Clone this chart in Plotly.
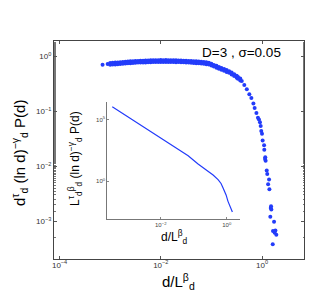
import plotly.graph_objects as go

# ---- main scatter data (d/L^beta_d , scaled P(d)) ----
band_x = [7.08e-4, 8.91e-4, 1.12e-3, 1.41e-3, 1.78e-3, 2.24e-3, 2.82e-3, 3.55e-3, 4.47e-3, 5.62e-3,
          7.08e-3, 8.91e-3, 0.0112, 0.0141, 0.0178, 0.0224, 0.0282, 0.0355, 0.0447, 0.0562,
          0.0708, 0.0891, 0.112, 0.141, 0.178, 0.224, 0.282, 0.335, 0.398, 0.447,
          0.501, 0.562, 0.617, 0.676, 0.716, 0.776, 0.832]
band_y = [0.703, 0.724, 0.736, 0.746, 0.762, 0.778, 0.789, 0.798, 0.805, 0.811,
          0.817, 0.822, 0.822, 0.822, 0.818, 0.815, 0.807, 0.800, 0.789, 0.778,
          0.762, 0.741, 0.676, 0.617, 0.569, 0.519, 0.457, 0.407, 0.355, 0.302,
          0.251, 0.204, 0.174, 0.138, 0.115, 0.0933, 0.0759]

mid_x = [1.0e-3, 1.26e-3, 1.58e-3, 2.0e-3, 2.51e-3, 3.16e-3, 3.98e-3, 5.01e-3, 6.31e-3, 7.94e-3,
         0.01, 0.0126, 0.0158, 0.02, 0.0251, 0.0316, 0.0398, 0.0501, 0.0631, 0.0794,
         0.1, 0.126, 0.158, 0.2, 0.251, 0.316, 0.372]
upper_y = [0.759, 0.771, 0.785, 0.802, 0.814, 0.826, 0.834, 0.841, 0.848, 0.853,
           0.855, 0.855, 0.853, 0.850, 0.843, 0.836, 0.826, 0.814, 0.802, 0.782,
           0.736, 0.672, 0.616, 0.565, 0.510, 0.444, 0.395]
lower_y = [0.701, 0.711, 0.725, 0.740, 0.752, 0.762, 0.770, 0.777, 0.782, 0.787,
           0.789, 0.789, 0.787, 0.784, 0.779, 0.772, 0.762, 0.752, 0.740, 0.722,
           0.680, 0.620, 0.568, 0.521, 0.470, 0.410, 0.365]

extra_x = [1.12e-3, 1.41e-3, 1.78e-3, 2.24e-3, 2.82e-3, 3.55e-3, 4.47e-3, 5.62e-3, 7.08e-3, 8.91e-3,
           0.0112, 0.0141, 0.0178, 0.0224, 0.0282, 0.0355, 0.0447, 0.0562, 0.0708, 0.0891,
           0.112, 0.141, 0.178, 0.224, 0.282, 0.335]
extra_hi = [0.762, 0.772, 0.789, 0.805, 0.817, 0.826, 0.833, 0.839, 0.846, 0.851,
            0.851, 0.851, 0.847, 0.844, 0.835, 0.828, 0.817, 0.805, 0.789, 0.767,
            0.700, 0.639, 0.589, 0.537, 0.473, 0.421]
extra_lo = [0.710, 0.720, 0.735, 0.751, 0.761, 0.770, 0.777, 0.783, 0.788, 0.793,
            0.793, 0.793, 0.789, 0.786, 0.779, 0.772, 0.761, 0.751, 0.735, 0.715,
            0.652, 0.595, 0.549, 0.501, 0.441, 0.393]

tail_x = [0.871, 0.912, 0.942, 0.968, 1.0, 1.03, 1.10, 1.11, 1.16, 1.18, 1.15,
          1.24, 1.27, 1.38, 1.32, 1.40, 1.49, 1.53, 1.51, 1.46, 1.73, 1.65, 1.78, 1.92, 1.84, 1.63]
tail_y = [0.0708, 0.0631, 0.0537, 0.0437, 0.0389, 0.0295, 0.0240, 0.0200, 0.0145, 0.0126, 0.0135,
          0.00832, 0.00724, 0.00575, 0.00468, 0.00380, 0.00174, 0.00162, 0.00186, 0.00120,
          0.000977, 0.000661, 0.000617, 0.000562, 0.000676, 0.000380]

# ---- inset curve ----
inset_x = [3.39e-4, 1.0e-3, 3.16e-3, 0.01, 0.0316, 0.0676, 0.135, 0.271, 0.385, 0.545,
           0.671, 0.773, 0.871, 0.953, 1.09, 1.26, 1.48]
inset_y = [1.07e6, 1.66e5, 2.29e4, 3.16e3, 437, 117, 25.1, 6.46, 3.24, 1.35,
           0.661, 0.288, 0.141, 0.0776, 0.0234, 0.00813, 0.00316]

main_xticks = [1e-4, 1e-2, 1]
main_xtext = ["10<sup>−4</sup>", "10<sup>−2</sup>", "10<sup>0</sup>"]
main_yticks = [1e-3, 1e-2, 1e-1, 1]
main_ytext = ["10<sup>−3</sup>", "10<sup>−2</sup>", "10<sup>−1</sup>", "10<sup>0</sup>"]
inset_xticks = [1e-2, 1]
inset_xtext = ["10<sup>−2</sup>", "10<sup>0</sup>"]
inset_yticks = [1, 1e5]
inset_ytext = ["10<sup>0</sup>", "10<sup>5</sup>"]

BLUE = "rgb(35,60,250)"
FONT = "Liberation Sans, Arial, sans-serif"

fig = go.Figure()
mk = dict(color=BLUE, size=4, line=dict(width=0))
for xs, ys in [(band_x, band_y), (mid_x, upper_y), (mid_x, lower_y),
               (extra_x, extra_hi), (extra_x, extra_lo), (tail_x, tail_y)]:
    fig.add_trace(go.Scatter(x=xs, y=ys, mode="markers", marker=mk, showlegend=False,
                             xaxis="x", yaxis="y"))
fig.add_trace(go.Scatter(x=inset_x, y=inset_y, mode="lines", line=dict(color=BLUE, width=1.2),
                         showlegend=False, xaxis="x2", yaxis="y2"))

L, R, T, B = 46, 36, 33, 43
W, H = 332, 294
pw, ph = W - L - R, H - T - B

def px(x):
    return (x - L) / pw

def py(y):
    return (H - B - y) / ph

tickfont = dict(family=FONT, size=8, color="#333")
fig.update_layout(
    width=W, height=H, margin=dict(l=L, r=R, t=T, b=B),
    paper_bgcolor="white", plot_bgcolor="white",
    font=dict(family=FONT),
    xaxis=dict(type="log", range=[-4.11, 0.83], domain=[0, 1], anchor="y",
               tickvals=main_xticks, ticktext=main_xtext, ticks="inside", ticklen=3,
               tickcolor="#555", showline=True, linecolor="#444", linewidth=1, mirror="ticks",
               showgrid=False, zeroline=False, tickfont=tickfont, ticklabelstandoff=-2),
    yaxis=dict(type="log", range=[-3.69, 0.28], domain=[0, 1], anchor="x",
               tickvals=main_yticks, ticktext=main_ytext, ticks="inside", ticklen=3,
               tickcolor="#555", showline=True, linecolor="#444", linewidth=1, mirror="ticks",
               showgrid=False, zeroline=False, tickfont=tickfont,
               minor=dict(ticks="inside", ticklen=1.5, tickcolor="#777")),
    xaxis2=dict(type="log", range=[-3.62, 0.41], domain=[px(99.3), px(232.3)], anchor="y2",
                tickvals=inset_xticks, ticktext=inset_xtext, ticks="inside", ticklen=2,
                tickcolor="#888", showline=True, linecolor="#777", linewidth=1, mirror=False,
                showgrid=False, zeroline=False, tickfont=dict(family=FONT, size=6, color="#444")),
    yaxis2=dict(type="log", range=[-3.06, 6.4], domain=[py(211), py(94.3)], anchor="x2",
                tickvals=inset_yticks, ticktext=inset_ytext, ticks="inside", ticklen=2,
                tickcolor="#888", showline=True, linecolor="#777", linewidth=1, mirror=False,
                showgrid=False, zeroline=False, tickfont=dict(family=FONT, size=6, color="#444")),
)

ann = [
    dict(text="D=3 , σ=0.05", x=px(233), y=py(44), size=13.5),
    dict(text="d/L<sup>β</sup><sub>d</sub>", x=px(170), y=py(273), size=15),
    dict(text="d<sup>τ</sup><sub>d</sub> (ln d)<sup>−γ</sup><sub>d</sub> P(d)", x=px(11), y=py(145),
         size=15, angle=-90),
    dict(text="d/L<sup>β</sup><sub>d</sub>", x=px(166), y=py(229), size=12),
    dict(text="L<sup>τ</sup><sub>d</sub><sup>β</sup><sub>d</sub> (ln d)<sup>−γ</sup><sub>d</sub> P(d)",
         x=px(67), y=py(151), size=12, angle=-90),
]
for a in ann:
    fig.add_annotation(text=a["text"], x=a["x"], y=a["y"], xref="paper", yref="paper",
                       showarrow=False, xanchor="center", yanchor="middle",
                       textangle=a.get("angle", 0),
                       font=dict(family=FONT, size=a["size"], color="black"))

fig.write_html("out.html")
